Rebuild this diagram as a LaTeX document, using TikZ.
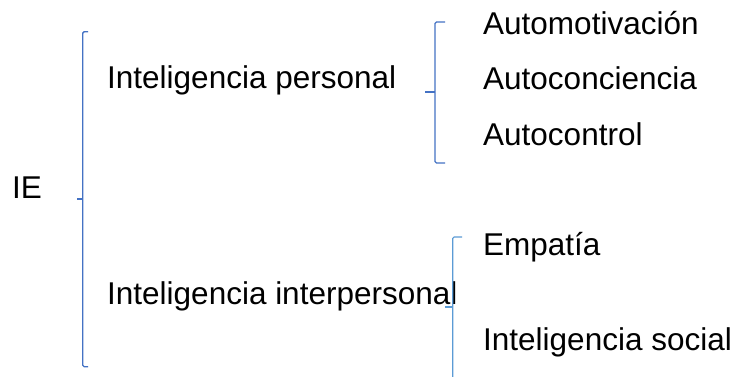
\documentclass[tikz,border=0pt]{standalone}
\usepackage{fontspec}
\setmainfont{Liberation Sans}
\definecolor{bracedark}{RGB}{68,114,196}
\definecolor{bracelight}{RGB}{91,155,213}
\begin{document}
\begin{tikzpicture}[x=1pt,y=-1pt,
  lbl/.style={anchor=base west,inner sep=0pt,font=\fontsize{31.5}{36}\selectfont,text=black},
  bracedk/.style={draw=bracedark,line width=1.3pt,rounded corners=1.5pt},
  bracelt/.style={draw=bracelight,line width=1.1pt,rounded corners=1.5pt}]
\useasboundingbox[fill=white] (0,0) rectangle (737,377);
% texts
\node[lbl] (ie) at (12,199) {IE};
\node[lbl] (ip) at (107,89) {Inteligencia personal};
\node[lbl] (ii) at (107,304) {Inteligencia interpersonal};
\node[lbl] (am) at (483,35) {Automotivación};
\node[lbl] (ac) at (483,90) {Autoconciencia};
\node[lbl] (at) at (483,146) {Autocontrol};
\node[lbl] (em) at (483,255) {Empatía};
\node[lbl] (is) at (483,350) {Inteligencia social};
% brace 1
\coordinate (b1t) at (88,31.7);
\coordinate (b1b) at (88,366.7);
\path[bracedk] (b1t) -- (82.7,31.7) -- (82.7,366.7) -- (b1b);
\draw[bracedark,line width=1.3pt] (77,199) -- (82.7,199);
% brace 2
\coordinate (b2t) at (445,22);
\coordinate (b2b) at (445,163);
\path[bracedk] (b2t) -- (435,22) -- (435,163) -- (b2b);
\draw[bracedark,line width=1.5pt] (425,92) -- (435,92);
% brace 3
\coordinate (b3t) at (462,237);
\coordinate (b3b) at (452.7,377);
\path[bracelt] (b3t) -- (452.7,237) -- (b3b);
\draw[bracelight,line width=1.1pt] (445,307) -- (452.7,307);
\end{tikzpicture}
\end{document}
